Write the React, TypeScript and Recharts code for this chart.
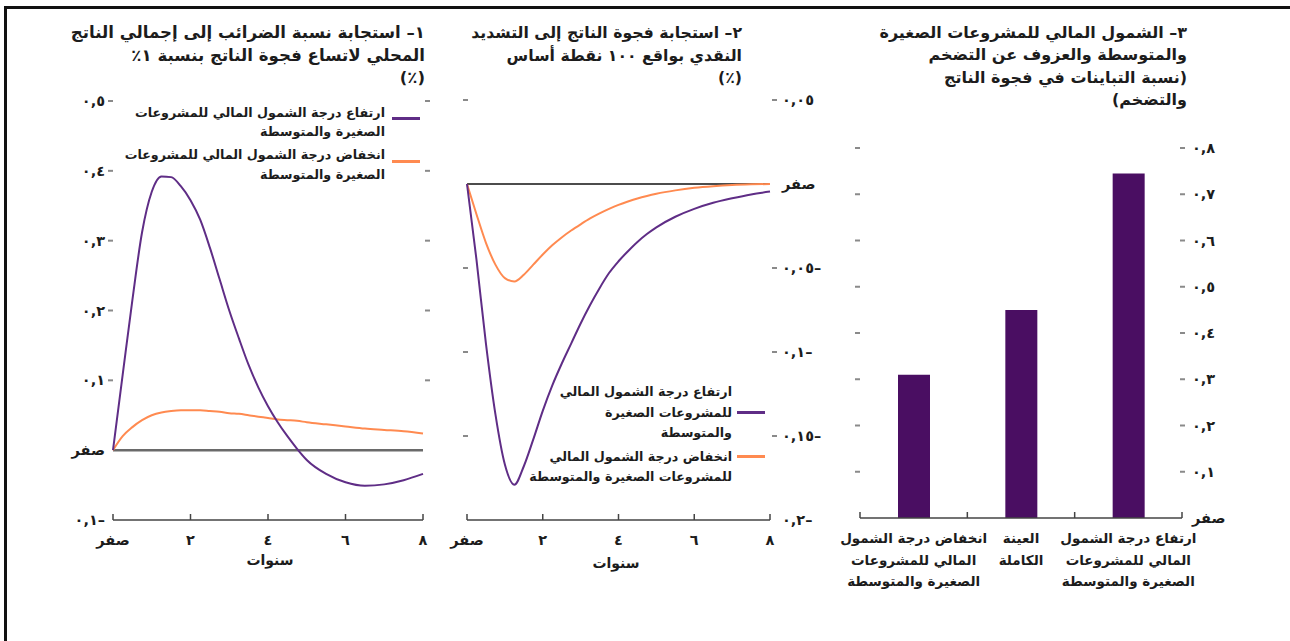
import { LineChart, Line, BarChart, Bar, XAxis, YAxis, ReferenceLine } from "recharts";

const FONT = '"DejaVu Sans", sans-serif';
const INK = "#1c1c1c";
const PURPLE = "#5f2d86";
const ORANGE = "#ff8a50";
const BAR_PURPLE = "#4a0e62";
const TICK_GREY = "#8a8a8a";

// years after the shock
const YEARS = [0, 0.25, 0.5, 0.75, 1, 1.25, 1.5, 1.75, 2, 2.25, 2.5, 2.75, 3, 3.25, 3.5, 3.75, 4, 4.25, 4.5, 4.75, 5, 5.5, 6, 6.5, 7, 7.5, 8];

// panel 1: tax-to-GDP response
const TAX_HIGH = [0, 0.108, 0.215, 0.312, 0.37, 0.392, 0.391, 0.378, 0.358, 0.33, 0.29, 0.245, 0.2, 0.16, 0.122, 0.09, 0.063, 0.04, 0.02, 0.002, -0.014, -0.034, -0.046, -0.051, -0.049, -0.043, -0.034];
const TAX_LOW = [0, 0.02, 0.033, 0.043, 0.05, 0.054, 0.056, 0.057, 0.057, 0.057, 0.056, 0.055, 0.053, 0.052, 0.05, 0.048, 0.046, 0.044, 0.043, 0.042, 0.04, 0.037, 0.034, 0.031, 0.029, 0.027, 0.024];

// panel 2: output gap response
const GAP_HIGH = [0, -0.045, -0.095, -0.137, -0.167, -0.179, -0.168, -0.152, -0.135, -0.12, -0.107, -0.095, -0.083, -0.072, -0.062, -0.053, -0.046, -0.04, -0.0345, -0.0298, -0.0258, -0.0195, -0.0148, -0.0112, -0.0085, -0.0062, -0.0045];
const GAP_LOW = [0, -0.018, -0.035, -0.048, -0.056, -0.058, -0.054, -0.048, -0.042, -0.0365, -0.0318, -0.0277, -0.024, -0.0205, -0.0175, -0.0148, -0.0124, -0.0104, -0.0086, -0.0071, -0.0058, -0.0038, -0.0023, -0.0013, -0.0006, -0.0002, 0];

const X_TICKS = [0, 2, 4, 6, 8];
const X_TICK_LABELS = ["صفر", "٢", "٤", "٦", "٨"];

const TAX_Y_TICKS = [-0.1, 0, 0.1, 0.2, 0.3, 0.4, 0.5];
const TAX_Y_LABELS = ["٠,١–", "صفر", "٠,١", "٠,٢", "٠,٣", "٠,٤", "٠,٥"];

const GAP_Y_TICKS = [-0.2, -0.15, -0.1, -0.05, 0, 0.05];
const GAP_Y_LABELS = ["٠,٢–", "٠,١٥–", "٠,١–", "٠,٠٥–", "صفر", "٠,٠٥"];

// panel 3: variance shares
const BAR_CATEGORIES = [
  "انخفاض درجة الشمول المالي للمشروعات الصغيرة والمتوسطة",
  "العينة الكاملة",
  "ارتفاع درجة الشمول المالي للمشروعات الصغيرة والمتوسطة",
];
const BAR_CATEGORY_LINES = [
  ["انخفاض درجة الشمول", "المالي للمشروعات", "الصغيرة والمتوسطة"],
  ["العينة", "الكاملة"],
  ["ارتفاع درجة الشمول", "المالي للمشروعات", "الصغيرة والمتوسطة"],
];
const BAR_VALUES = [0.31, 0.45, 0.745];
const BAR_Y_TICKS = [0, 0.1, 0.2, 0.3, 0.4, 0.5, 0.6, 0.7, 0.8];
const BAR_Y_LABELS = ["صفر", "٠,١", "٠,٢", "٠,٣", "٠,٤", "٠,٥", "٠,٦", "٠,٧", "٠,٨"];

const LEGEND_HIGH = "ارتفاع درجة الشمول المالي للمشروعات الصغيرة والمتوسطة";
const LEGEND_LOW = "انخفاض درجة الشمول المالي للمشروعات الصغيرة والمتوسطة";

const labelFor = (ticks: number[], labels: string[], v: number) =>
  labels[ticks.findIndex((t) => Math.abs(t - v) < 1e-9)] ?? "";

const taxData = YEARS.map((x, i) => ({ x, high: TAX_HIGH[i], low: TAX_LOW[i] }));
const gapData = YEARS.map((x, i) => ({ x, high: GAP_HIGH[i], low: GAP_LOW[i] }));
const barData = BAR_CATEGORIES.map((name, i) => ({ name, value: BAR_VALUES[i] }));

const tickText = { fontFamily: FONT, fontSize: 14.5, fontWeight: 700, fill: INK } as const;

function XTick(props: any) {
  const { x, y, payload } = props;
  return (
    <g>
      <line x1={x} x2={x} y1={y - 6} y2={y} stroke="#444" strokeWidth={1.5} />
      <text x={x} y={y + 25} textAnchor="middle" {...tickText}>
        {labelFor(X_TICKS, X_TICK_LABELS, payload.value)}
      </text>
    </g>
  );
}

// one y axis per panel: labels on one side, short dashes on both sides of the plot
function AxisTick(opts: {
  ticks: number[];
  labels: string[];
  side: "left" | "right";
  nearDash: number;
  farDash: number;
  textAt: number;
}) {
  return (props: any) => {
    const { x, y, payload } = props;
    const v = payload.value;
    const isZero = Math.abs(v) < 1e-9;
    const isBottom = Math.abs(v - opts.ticks[0]) < 1e-9;
    const showDash = !isZero && !isBottom;
    return (
      <g>
        {showDash && (
          <line x1={x + opts.nearDash} x2={x + opts.nearDash + 5} y1={y} y2={y} stroke={TICK_GREY} strokeWidth={2} />
        )}
        {showDash && (
          <line x1={x + opts.farDash} x2={x + opts.farDash + 5} y1={y} y2={y} stroke={TICK_GREY} strokeWidth={2} />
        )}
        <text
          x={x + opts.textAt}
          y={y + 5}
          textAnchor={opts.side === "left" ? "end" : "start"}
          {...tickText}
        >
          {labelFor(opts.ticks, opts.labels, v)}
        </text>
      </g>
    );
  };
}

const BAND_HALF = 322 / 3 / 2;

function BarXTick(props: any) {
  const { x, y, index } = props;
  const lines = BAR_CATEGORY_LINES[index] ?? [];
  return (
    <g>
      <line x1={x - BAND_HALF} x2={x - BAND_HALF} y1={y - 6} y2={y} stroke="#444" strokeWidth={1.5} />
      {index === BAR_CATEGORIES.length - 1 && (
        <line x1={x + BAND_HALF} x2={x + BAND_HALF} y1={y - 6} y2={y} stroke="#444" strokeWidth={1.5} />
      )}
      {lines.map((t, i) => (
        <text key={i} x={x} y={y + 25} dy={i * 21.5} textAnchor="middle" fontFamily={FONT} fontSize={13.5} fontWeight={700} fill={INK}>
          {t}
        </text>
      ))}
    </g>
  );
}

const titleStyle = {
  position: "absolute",
  fontFamily: FONT,
  fontSize: 16,
  fontWeight: 700,
  color: INK,
  lineHeight: "22.5px",
  textAlign: "right",
  whiteSpace: "nowrap",
} as const;

const legendTextStyle = {
  position: "absolute",
  fontFamily: FONT,
  fontSize: 12.7,
  fontWeight: 700,
  color: INK,
  lineHeight: "20px",
  textAlign: "right",
  whiteSpace: "nowrap",
} as const;

function Swatch({ left, top, color }: { left: number; top: number; color: string }) {
  return <div style={{ position: "absolute", left, top, width: 28, height: 3, background: color }} />;
}

export default function App() {
  return (
    <div
      style={{
        position: "fixed",
        left: 0,
        top: 0,
        width: 1290,
        height: 641,
        background: "#fff",
        overflow: "hidden",
        fontFamily: FONT,
      }}
    >
      {/* frame */}
      <div style={{ position: "absolute", left: 4, top: 6, right: -10, bottom: -10, borderTop: "3px solid #111", borderLeft: "3px solid #111" }} />

      {/* panel 1 */}
      <div style={{ position: "absolute", left: 0, top: 0 }}>
        <LineChart width={460} height={600} data={taxData} margin={{ top: 101, right: 37, bottom: 50, left: 63 }}>
          <XAxis dataKey="x" type="number" domain={[0, 8]} ticks={X_TICKS} height={30} tickSize={0} tickMargin={0}
            tick={XTick} axisLine={{ stroke: "#444", strokeWidth: 1.5 }} tickLine={false} />
          <YAxis type="number" domain={[-0.1, 0.5]} ticks={TAX_Y_TICKS} width={50} tickSize={0} tickMargin={0}
            tick={AxisTick({ ticks: TAX_Y_TICKS, labels: TAX_Y_LABELS, side: "left", nearDash: -5, farDash: 312, textAt: -8 })}
            axisLine={false} tickLine={false} />
          <ReferenceLine y={0} stroke="#6a6a6a" strokeWidth={2.5} />
          <Line dataKey="low" type="monotone" stroke={ORANGE} strokeWidth={2} dot={false} isAnimationActive={false} />
          <Line dataKey="high" type="monotone" stroke={PURPLE} strokeWidth={2} dot={false} isAnimationActive={false} />
        </LineChart>
      </div>

      {/* panel 2 */}
      <div style={{ position: "absolute", left: 440, top: 0 }}>
        <LineChart width={400} height={600} data={gapData} margin={{ top: 100, right: 20, bottom: 50, left: 27 }}>
          <XAxis dataKey="x" type="number" domain={[0, 8]} ticks={X_TICKS} height={30} tickSize={0} tickMargin={0}
            tick={XTick} axisLine={{ stroke: "#444", strokeWidth: 1.5 }} tickLine={false} />
          <YAxis orientation="right" type="number" domain={[-0.2, 0.05]} ticks={GAP_Y_TICKS} width={50} tickSize={0} tickMargin={0}
            tick={AxisTick({ ticks: GAP_Y_TICKS, labels: GAP_Y_LABELS, side: "right", nearDash: 2, farDash: -307, textAt: 12 })}
            axisLine={false} tickLine={false} />
          <ReferenceLine y={0} stroke="#111" strokeWidth={1.5} />
          <Line dataKey="low" type="monotone" stroke={ORANGE} strokeWidth={2} dot={false} isAnimationActive={false} />
          <Line dataKey="high" type="monotone" stroke={PURPLE} strokeWidth={2} dot={false} isAnimationActive={false} />
        </LineChart>
      </div>

      {/* panel 3 */}
      <div style={{ position: "absolute", left: 830, top: 0 }}>
        <BarChart width={430} height={600} data={barData} margin={{ top: 148, right: 28, bottom: 2, left: 30 }}>
          <XAxis dataKey="name" type="category" height={80} tickSize={0} tickMargin={0} interval={0}
            tick={BarXTick} axisLine={{ stroke: "#444", strokeWidth: 1.5 }} tickLine={false} />
          <YAxis orientation="right" type="number" domain={[0, 0.8]} ticks={BAR_Y_TICKS} width={50} tickSize={0} tickMargin={0}
            tick={AxisTick({ ticks: BAR_Y_TICKS, labels: BAR_Y_LABELS, side: "right", nearDash: -2, farDash: -327, textAt: 10 })}
            axisLine={false} tickLine={false} />
          <Bar dataKey="value" fill={BAR_PURPLE} barSize={32} isAnimationActive={false} />
        </BarChart>
      </div>

      {/* titles */}
      <div dir="rtl" style={{ ...titleStyle, left: 25, width: 400, top: 22, fontSize: 16.6 }}>
        <div>١– استجابة نسبة الضرائب إلى إجمالي الناتج</div>
        <div>المحلي لاتساع فجوة الناتج بنسبة ١٪</div>
        <div>(٪)</div>
      </div>
      <div dir="rtl" style={{ ...titleStyle, left: 442, width: 300, top: 22, fontSize: 15.7 }}>
        <div>٢– استجابة فجوة الناتج إلى التشديد</div>
        <div>النقدي بواقع ١٠٠ نقطة أساس</div>
        <div>(٪)</div>
      </div>
      <div dir="rtl" style={{ ...titleStyle, left: 837, width: 350, top: 22, lineHeight: "22.3px" }}>
        <div>٣– الشمول المالي للمشروعات الصغيرة</div>
        <div>والمتوسطة والعزوف عن التضخم</div>
        <div>(نسبة التباينات في فجوة الناتج</div>
        <div>والتضخم)</div>
      </div>

      {/* axis titles */}
      <div style={{ position: "absolute", left: 230, width: 80, top: 552, textAlign: "center", fontSize: 14, fontWeight: 700, color: INK }}>سنوات</div>
      <div style={{ position: "absolute", left: 576, width: 80, top: 555, textAlign: "center", fontSize: 14, fontWeight: 700, color: INK }}>سنوات</div>

      {/* legend panel 1 */}
      <Swatch left={392} top={117} color={PURPLE} />
      <div dir="rtl" title={LEGEND_HIGH} style={{ ...legendTextStyle, left: 85, width: 300, top: 103, lineHeight: "19px" }}>
        <div>ارتفاع درجة الشمول المالي للمشروعات</div>
        <div>الصغيرة والمتوسطة</div>
      </div>
      <Swatch left={392} top={160} color={ORANGE} />
      <div dir="rtl" title={LEGEND_LOW} style={{ ...legendTextStyle, left: 85, width: 300, top: 145, lineHeight: "20px" }}>
        <div>انخفاض درجة الشمول المالي للمشروعات</div>
        <div>الصغيرة والمتوسطة</div>
      </div>

      {/* legend panel 2 */}
      <Swatch left={737} top={411} color={PURPLE} />
      <div dir="rtl" title={LEGEND_HIGH} style={{ ...legendTextStyle, left: 522, width: 210, top: 382, lineHeight: "20.5px" }}>
        <div>ارتفاع درجة الشمول المالي</div>
        <div>للمشروعات الصغيرة</div>
        <div>والمتوسطة</div>
      </div>
      <Swatch left={737} top={455} color={ORANGE} />
      <div dir="rtl" title={LEGEND_LOW} style={{ ...legendTextStyle, left: 512, width: 220, top: 447, lineHeight: "20px" }}>
        <div>انخفاض درجة الشمول المالي</div>
        <div>للمشروعات الصغيرة والمتوسطة</div>
      </div>
    </div>
  );
}
